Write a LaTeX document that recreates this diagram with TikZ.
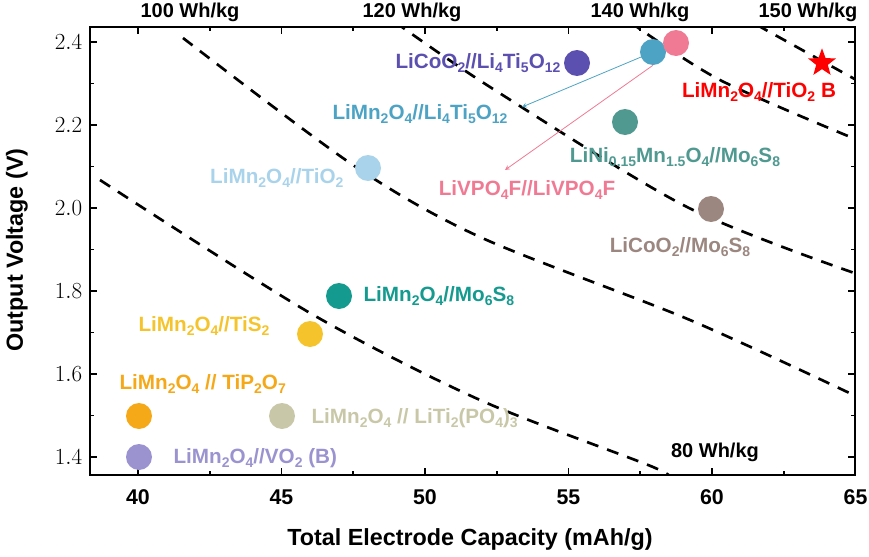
\documentclass[tikz,border=0pt]{standalone}
\usepackage{fontspec}
\setmainfont{Liberation Sans}
\usetikzlibrary{shapes.geometric}
\newcommand\dn[1]{\raisebox{-0.35ex}{\fontsize{10.5}{12}\selectfont #1}}
\begin{document}
\begin{tikzpicture}[x=0.75pt,y=-0.75pt,
  lab/.style={font=\bfseries\fontsize{15.5}{18}\selectfont,inner sep=1pt},
  dot/.style={circle,minimum size=19.5pt,inner sep=0pt},
  iso/.style={black,line width=2pt,dash pattern=on 9pt off 7pt},
  tick/.style={font=\bfseries\fontsize{16}{18}\selectfont},
  ttl/.style={font=\bfseries\fontsize{17.5}{20}\selectfont},
  whl/.style={font=\bfseries\fontsize{15}{18}\selectfont}]
\useasboundingbox (0,0) rectangle (869,557);
\definecolor{cA}{HTML}{5B4FB0}\definecolor{cB}{HTML}{4DA3C4}\definecolor{cC}{HTML}{F07A93}
\definecolor{cD}{HTML}{4F9990}\definecolor{cE}{HTML}{9B8680}\definecolor{cF}{HTML}{A9D3EA}
\definecolor{cG}{HTML}{149A8F}\definecolor{cH}{HTML}{F5C42C}\definecolor{cI}{HTML}{F5A818}
\definecolor{cJ}{HTML}{C8C8A8}\definecolor{cK}{HTML}{9A93D0}
\begin{scope}
\clip (90,27) rectangle (855,475);
\draw[iso] plot[smooth] coordinates {(100,180) (310,313) (480,400) (653,467) (670,480)};
\draw[iso] plot[smooth] coordinates {(183,38) (353,165) (480,237) (690,320) (860,398)};
\draw[iso] plot[smooth] coordinates {(395,22) (490,87) (687,207) (860,275)};
\draw[iso] plot[smooth] coordinates {(630,22) (720,80) (860,141)};
\draw[iso] plot[smooth] coordinates {(757,25) (860,82)};
\end{scope}
\draw[line width=1.3pt] (90,27) rectangle (855,475);
\foreach \c in {40,45,...,65}{
  \pgfmathsetmacro\X{138+28.7*(\c-40)}
  \draw[line width=1.2pt] (\X,475) -- (\X,468) (\X,27) -- (\X,34);
  \node[tick] at (\X,497) {\c};}
\foreach \c in {42.5,47.5,...,62.5}{
  \pgfmathsetmacro\X{138+28.7*(\c-40)}
  \draw[line width=1.2pt] (\X,475) -- (\X,471) (\X,27) -- (\X,31);}
\foreach \v in {1.4,1.6,...,2.41}{
  \pgfmathsetmacro\Y{457-(\v-1.4)*415}
  \draw[line width=1.2pt] (90,\Y) -- (97,\Y) (855,\Y) -- (848,\Y);
  \node[tick,anchor=east] at (87,\Y) {\pgfmathprintnumber[fixed,precision=1,fixed zerofill]{\v}};}
\foreach \v in {1.5,1.7,...,2.31}{
  \pgfmathsetmacro\Y{457-(\v-1.4)*415}
  \draw[line width=1.2pt] (90,\Y) -- (94,\Y) (855,\Y) -- (851,\Y);}
\node[ttl] (xt) at (470,540) {Total Electrode Capacity (mAh/g)};
\node[ttl,rotate=90] (yt) at (17,250) {Output Voltage (V)};
\node[whl] (w1) at (190,12) {100 Wh/kg};
\node[whl] (w2) at (412,12) {120 Wh/kg};
\node[whl] (w3) at (640,12) {140 Wh/kg};
\node[whl] (w4) at (808,12) {150 Wh/kg};
\node[whl] (w0) at (715,452) {80 Wh/kg};
% points
\node[dot,fill=cA] (pA) at (577,63) {};
\node[dot,fill=cB] (pB) at (653,52) {};
\node[dot,fill=cC] (pC) at (676,43) {};
\node[dot,fill=cD] (pD) at (625,122) {};
\node[dot,fill=cE] (pE) at (711,209) {};
\node[star,star points=5,star point ratio=2.4,fill=red,minimum size=22pt,inner sep=0pt] (pS) at (822,63) {};
\node[dot,fill=cF] (pF) at (368,168) {};
\node[dot,fill=cG] (pG) at (339,296) {};
\node[dot,fill=cH] (pH) at (310,334) {};
\node[dot,fill=cI] (pI) at (139,416) {};
\node[dot,fill=cJ] (pJ) at (282,416) {};
\node[dot,fill=cK] (pK) at (139,457) {};
% labels
\node[lab,text=cA,anchor=east] (lA) at (562,63) {LiCoO\dn{2}//Li\dn{4}Ti\dn{5}O\dn{12}};
\node[lab,text=cB] (lB) at (420,114) {LiMn\dn{2}O\dn{4}//Li\dn{4}Ti\dn{5}O\dn{12}};
\node[lab,text=cC] (lC) at (527,190) {LiVPO\dn{4}F//LiVPO\dn{4}F};
\node[lab,text=cD] (lD) at (675,157) {LiNi\dn{0.15}Mn\dn{1.5}O\dn{4}//Mo\dn{6}S\dn{8}};
\node[lab,text=cE] (lE) at (680,247) {LiCoO\dn{2}//Mo\dn{6}S\dn{8}};
\node[lab,text=red] (lS) at (759,92) {LiMn\dn{2}O\dn{4}//TiO\dn{2} B};
\node[lab,text=cF,anchor=east] (lF) at (345,178) {LiMn\dn{2}O\dn{4}//TiO\dn{2}};
\node[lab,text=cG,anchor=west] (lG) at (362,296) {LiMn\dn{2}O\dn{4}//Mo\dn{6}S\dn{8}};
\node[lab,text=cH] (lH) at (204,326) {LiMn\dn{2}O\dn{4}//TiS\dn{2}};
\node[lab,text=cI,anchor=west] (lI) at (118,384) {LiMn\dn{2}O\dn{4} // TiP\dn{2}O\dn{7}};
\node[lab,text=cJ,anchor=west] (lJ) at (310,418) {LiMn\dn{2}O\dn{4} // LiTi\dn{2}(PO\dn{4})\dn{3}};
\node[lab,text=cK,anchor=west] (lK) at (172,458) {LiMn\dn{2}O\dn{4}//VO\dn{2} (B)};
\coordinate (aB) at (522,107);
\coordinate (aC) at (505,170);
\draw[cB,line width=0.6pt,-stealth] (pB) -- (aB);
\draw[cC,line width=0.6pt,-stealth] (pB.south) -- (aC);
\end{tikzpicture}
\end{document}
